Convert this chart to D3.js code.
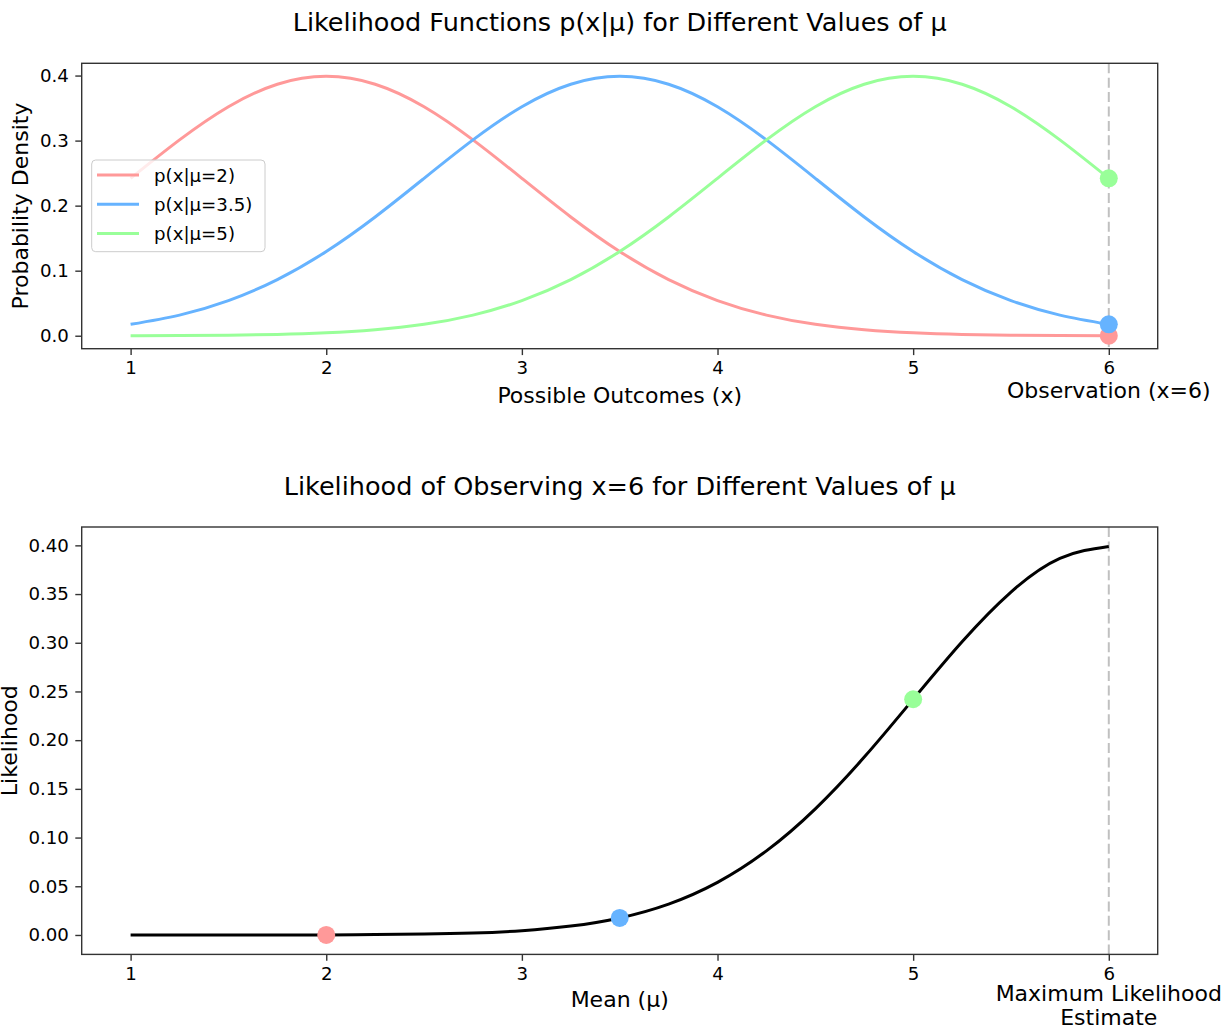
<!DOCTYPE html>
<html>
<head>
<meta charset="utf-8">
<script src="https://cdn.jsdelivr.net/npm/d3@7"></script>
<style>
  html, body { margin: 0; padding: 0; background: #fff; }
  svg { display: block; font-family: "DejaVu Sans", sans-serif; }
</style>
</head>
<body>
<svg id="chart" width="1226" height="1027"></svg>
<script>
// Sample grid shared by both panels (x for the densities, mu for the likelihood)
const grid = [1, 1.25, 1.5, 1.75, 2, 2.25, 2.5, 2.75, 3, 3.25, 3.5, 3.75, 4,
              4.25, 4.5, 4.75, 5, 5.25, 5.5, 5.75, 6];

// Density curves p(x|mu) for the three candidate means
const densityMu2  = [0.2420, 0.3011, 0.3521, 0.3867, 0.3989, 0.3867, 0.3521, 0.3011, 0.2420, 0.1826,
                     0.1295, 0.0863, 0.0540, 0.0317, 0.0175, 0.0091, 0.0044, 0.0020, 0.0009, 0.0004, 0.0001];
const densityMu35 = [0.0175, 0.0317, 0.0540, 0.0863, 0.1295, 0.1826, 0.2420, 0.3011, 0.3521, 0.3867,
                     0.3989, 0.3867, 0.3521, 0.3011, 0.2420, 0.1826, 0.1295, 0.0863, 0.0540, 0.0317, 0.0175];
const densityMu5  = [0.0001, 0.0004, 0.0009, 0.0020, 0.0044, 0.0091, 0.0175, 0.0317, 0.0540, 0.0863,
                     0.1295, 0.1826, 0.2420, 0.3011, 0.3521, 0.3867, 0.3989, 0.3867, 0.3521, 0.3011, 0.2420];

// Likelihood of x = 6 as a function of mu
const likelihood  = [0.0000, 0.00001, 0.00002, 0.00005, 0.0001, 0.0004, 0.0009, 0.0020, 0.0044, 0.0091,
                     0.0175, 0.0317, 0.0540, 0.0863, 0.1295, 0.1826, 0.2420, 0.3011, 0.3521, 0.3867, 0.3989];

// Candidate means, their labels and the likelihood each gives to x = 6
const muValues   = [2, 3.5, 5];
const muLabels   = ["p(x|μ=2)", "p(x|μ=3.5)", "p(x|μ=5)"];
const muColors   = ["#ff9999", "#66b3ff", "#99ff99"];
const obsLikes   = [0.0001, 0.0175, 0.2420];
const observation = 6;

// Tick values
const xTicks      = [1, 2, 3, 4, 5, 6];
const yTicksTop   = [0.0, 0.1, 0.2, 0.3, 0.4];
const yTicksBot   = [0.00, 0.05, 0.10, 0.15, 0.20, 0.25, 0.30, 0.35, 0.40];

const svg = d3.select("#chart");
const FS_TICK = 18.2, FS_LABEL = 22, FS_TITLE = 25.5;
const AXIS_COLOR = "#333";

function padded(lo, hi) {
  const p = (hi - lo) * 0.05;
  return [lo - p, hi + p];
}

function panel(box, yDomain, yTicks, yFmt) {
  const g = svg.append("g");
  const x = d3.scaleLinear().domain(padded(grid[0], grid[grid.length - 1])).range([box.left, box.right]);
  const y = d3.scaleLinear().domain(yDomain).range([box.bottom, box.top]);

  const xAxis = g.append("g").attr("transform", `translate(0,${box.bottom})`)
    .call(d3.axisBottom(x).tickValues(xTicks).tickFormat(d3.format("d")).tickSize(6.4).tickPadding(6.4));
  const yAxis = g.append("g").attr("transform", `translate(${box.left},0)`)
    .call(d3.axisLeft(y).tickValues(yTicks).tickFormat(d3.format(yFmt)).tickSize(6.4).tickPadding(6.4));
  [xAxis, yAxis].forEach(a => {
    a.select(".domain").remove();
    a.selectAll(".tick line").attr("stroke", AXIS_COLOR).attr("stroke-width", 1.4);
    a.selectAll(".tick text").attr("fill", "#000").attr("font-size", FS_TICK)
      .attr("font-family", "DejaVu Sans, sans-serif");
  });

  const layer = g.append("g");
  // frame
  g.append("rect").attr("x", box.left).attr("y", box.top)
    .attr("width", box.right - box.left).attr("height", box.bottom - box.top)
    .attr("fill", "none").attr("stroke", AXIS_COLOR).attr("stroke-width", 1.4);
  return { g, layer, x, y };
}

const yDom = padded(0, d3.max([...densityMu2, ...densityMu35, ...densityMu5]));

// ---------- Upper panel: densities ----------
const topBox = { left: 81.7, right: 1157.7, top: 63.3, bottom: 348.7 };
const upper = panel(topBox, yDom, yTicksTop, ".1f");

const densities = [densityMu2, densityMu35, densityMu5];
const lineTop = d3.line().x(d => upper.x(d[0])).y(d => upper.y(d[1])).curve(d3.curveNatural);
densities.forEach((vals, i) => {
  upper.layer.append("path")
    .attr("d", lineTop(grid.map((g, j) => [g, vals[j]])))
    .attr("fill", "none").attr("stroke", muColors[i]).attr("stroke-width", 3);
});

upper.layer.append("line")
  .attr("x1", upper.x(observation)).attr("x2", upper.x(observation))
  .attr("y1", topBox.top).attr("y2", topBox.bottom)
  .attr("stroke", "#c0c0c0").attr("stroke-width", 2).attr("stroke-dasharray", "10,4.4");

densities.forEach((vals, i) => {
  upper.layer.append("circle")
    .attr("cx", upper.x(observation)).attr("cy", upper.y(vals[vals.length - 1]))
    .attr("r", 9).attr("fill", muColors[i]);
});

// legend
const leg = upper.g.append("g");
leg.append("rect").attr("x", 91.7).attr("y", 160).attr("width", 173.3).attr("height", 91.7)
  .attr("rx", 4).attr("fill", "#fff").attr("fill-opacity", 0.8)
  .attr("stroke", "#cccccc").attr("stroke-width", 1);
muLabels.forEach((lab, i) => {
  const ry = 175 + i * 29.2;
  leg.append("line").attr("x1", 97).attr("x2", 139).attr("y1", ry).attr("y2", ry)
    .attr("stroke", muColors[i]).attr("stroke-width", 3);
  leg.append("text").attr("x", 154).attr("y", ry).attr("dy", "0.36em")
    .attr("font-size", FS_TICK).text(lab);
});

upper.g.append("text").attr("x", (topBox.left + topBox.right) / 2).attr("y", topBox.top - 32)
  .attr("text-anchor", "middle").attr("font-size", FS_TITLE)
  .text("Likelihood Functions p(x|μ) for Different Values of μ");
upper.g.append("text").attr("x", (topBox.left + topBox.right) / 2).attr("y", topBox.bottom + 54)
  .attr("text-anchor", "middle").attr("font-size", FS_LABEL).text("Possible Outcomes (x)");
upper.g.append("text").attr("transform", `translate(28,${(topBox.top + topBox.bottom) / 2}) rotate(-90)`)
  .attr("text-anchor", "middle").attr("font-size", FS_LABEL).text("Probability Density");
upper.g.append("text").attr("x", upper.x(observation)).attr("y", topBox.bottom + 49.6)
  .attr("text-anchor", "middle").attr("font-size", FS_LABEL).text("Observation (x=6)");

// ---------- Lower panel: likelihood ----------
const botBox = { left: 81.7, right: 1157.7, top: 527, bottom: 954.4 };
const lower = panel(botBox, padded(0, d3.max(likelihood)), yTicksBot, ".2f");

lower.layer.append("line")
  .attr("x1", lower.x(observation)).attr("x2", lower.x(observation))
  .attr("y1", botBox.top).attr("y2", botBox.bottom)
  .attr("stroke", "#c0c0c0").attr("stroke-width", 2).attr("stroke-dasharray", "10,4.4");

const lineBot = d3.line().x(d => lower.x(d[0])).y(d => lower.y(d[1])).curve(d3.curveNatural);
lower.layer.append("path")
  .attr("d", lineBot(grid.map((g, j) => [g, likelihood[j]])))
  .attr("fill", "none").attr("stroke", "#000").attr("stroke-width", 3);

muValues.forEach((m, i) => {
  lower.layer.append("circle")
    .attr("cx", lower.x(m)).attr("cy", lower.y(obsLikes[i]))
    .attr("r", 9).attr("fill", muColors[i]);
});

lower.g.append("text").attr("x", (botBox.left + botBox.right) / 2).attr("y", botBox.top - 32)
  .attr("text-anchor", "middle").attr("font-size", FS_TITLE)
  .text("Likelihood of Observing x=6 for Different Values of μ");
lower.g.append("text").attr("x", (botBox.left + botBox.right) / 2).attr("y", botBox.bottom + 52.5)
  .attr("text-anchor", "middle").attr("font-size", FS_LABEL).text("Mean (μ)");
lower.g.append("text").attr("transform", `translate(17,${(botBox.top + botBox.bottom) / 2}) rotate(-90)`)
  .attr("text-anchor", "middle").attr("font-size", FS_LABEL).text("Likelihood");
const mle = lower.g.append("text").attr("x", lower.x(observation)).attr("y", botBox.bottom + 46.3)
  .attr("text-anchor", "middle").attr("font-size", FS_LABEL);
mle.append("tspan").attr("x", lower.x(observation)).text("Maximum Likelihood");
mle.append("tspan").attr("x", lower.x(observation)).attr("dy", 24.3).text("Estimate");
</script>
</body>
</html>
